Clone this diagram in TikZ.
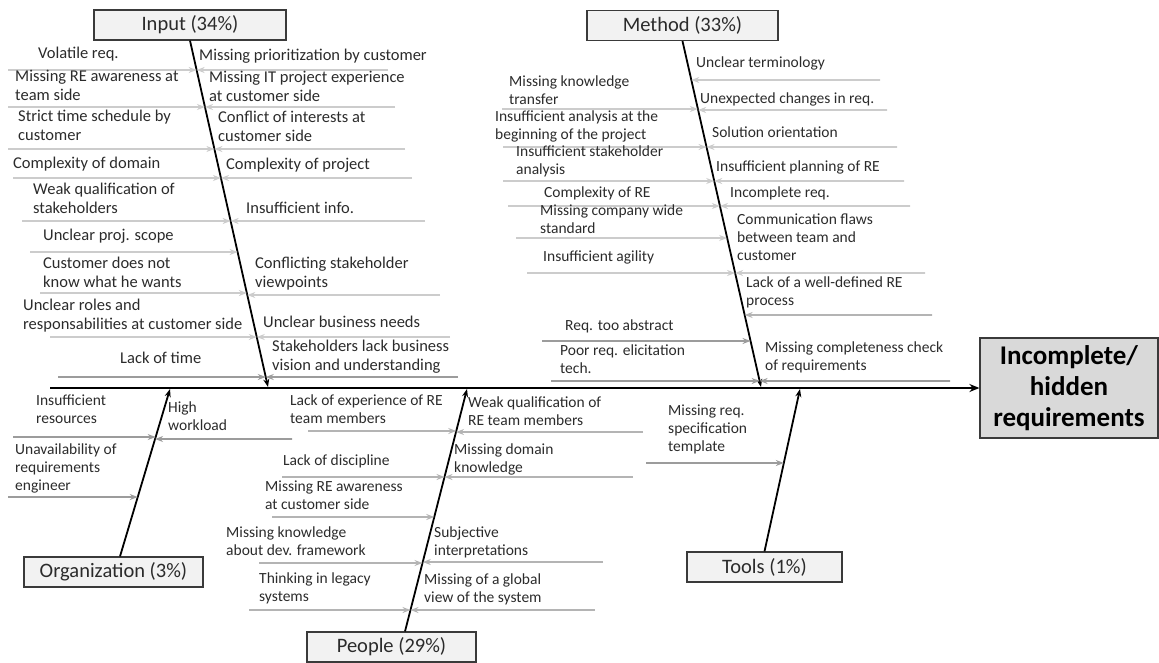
\documentclass[tikz,border=0pt]{standalone}
\usepackage{fontspec}
\setmainfont{Carlito}
\usetikzlibrary{arrows.meta,positioning}
\definecolor{boxline}{HTML}{3A3A3A}
\definecolor{boxfill}{HTML}{F2F2F2}
\definecolor{effectfill}{HTML}{D9D9D9}
\definecolor{sublight}{HTML}{CCCCCC}
\definecolor{submid}{HTML}{B4B4B4}
\definecolor{subdark}{HTML}{9C9C9C}
\definecolor{txt}{HTML}{2B2B2B}
\tikzset{
  catbox/.style={draw=boxline,fill=boxfill,line width=1.2pt,minimum height=30pt,inner sep=0pt,text=txt,font=\fontsize{20.5}{24}\selectfont},
  cause/.style={anchor=base west,align=left,inner sep=0pt,text=txt,font=\fontsize{15.5}{18}\selectfont},
  causebig/.style={cause,font=\fontsize{16.5}{18.5}\selectfont},
  bone/.style={line width=1.8pt,-{Stealth[length=8pt,width=6pt]}},
  sub/.style={line width=1.6pt,draw=sublight,-{Stealth[length=8pt,width=6pt]}},
}
\begin{document}
\begin{tikzpicture}[x=1pt,y=-1pt]
\useasboundingbox (0,0) rectangle (1159,662);
% effect and spine
\node[draw=boxline,fill=effectfill,line width=1.2pt,minimum width=178pt,minimum height=100pt,inner sep=0pt,align=center,
      font=\bfseries\fontsize{27}{31}\selectfont,text=black] (effect) at (1069,388) {Incomplete/\\hidden\\requirements};
\coordinate (spS) at (50,388);
\draw[line width=2.6pt,-{Stealth[length=10pt,width=8pt]}] (spS) -- (effect.west);
% categories
\node[catbox,minimum width=192pt] (input) at (190,25) {Input (34\%)};
\node[catbox,minimum width=191pt] (method) at (682.5,25.5) {Method (33\%)};
\node[catbox,minimum width=179pt] (org) at (113.5,572) {Organization (3\%)};
\node[catbox,minimum width=169pt] (people) at (391.5,647) {People (29\%)};
\node[catbox,minimum width=155pt] (tools) at (764.5,567) {Tools (1\%)};
\coordinate (inT) at (input.south);
\coordinate (inB) at (268,387);
\coordinate (meT) at (method.south);
\coordinate (meB) at (761,387);
\coordinate (orT) at ([xshift=6.5pt]org.north);
\coordinate (orB) at (170,389);
\coordinate (peT) at ([xshift=13.5pt]people.north);
\coordinate (peB) at (467,389);
\coordinate (toT) at (tools.north);
\coordinate (toB) at (800,389);
\draw[bone] (inT) -- (inB);
\draw[bone] (meT) -- (meB);
\draw[bone] (orT) -- (orB);
\draw[bone] (peT) -- (peB);
\draw[bone] (toT) -- (toB);
% input causes
\foreach \y/\xs [count=\i] in {70/8,107/8,149/8,178/13,221/22,252/30,293/40,337/50}
  \draw[sub] (\xs,\y) coordinate (inL\i) -- (intersection of inT--inB and 0,\y--1,\y);
\draw[sub,draw=subdark] (58,377) coordinate (inL9) -- (intersection of inT--inB and 0,377--1,377);
\foreach \y/\xs [count=\i] in {70/388,107/395,149/405,178/412,221/425,295/440,337/450}
  \draw[sub] (\xs,\y) coordinate (inR\i) -- (intersection of inT--inB and 0,\y--1,\y);
\draw[sub,draw=subdark] (458,377) coordinate (inR8) -- (intersection of inT--inB and 0,377--1,377);
\node[causebig] (c11) at (38,58) {Volatile req.};
\node[causebig] (c12) at (15,100) {Missing RE awareness at\\team side};
\node[causebig] (c13) at (18,140) {Strict time schedule by\\customer};
\node[causebig] (c14) at (13,168) {Complexity of domain};
\node[causebig] (c15) at (33,213) {Weak qualification of\\stakeholders};
\node[causebig] (c16) at (43,240) {Unclear proj. scope};
\node[causebig] (c17) at (43,287) {Customer does not\\know what he wants};
\node[causebig] (c18) at (23,329) {Unclear roles and\\responsabilities at customer side};
\node[causebig] (c19) at (120,363) {Lack of time};
\node[causebig] (c21) at (199,60) {Missing prioritization by customer};
\node[causebig] (c22) at (209,101) {Missing IT project experience\\at customer side};
\node[causebig] (c23) at (218,141) {Conflict of interests at\\customer side};
\node[causebig] (c24) at (226,169) {Complexity of project};
\node[causebig] (c25) at (246,213) {Insufficient info.};
\node[causebig] (c26) at (255,287) {Conflicting stakeholder\\viewpoints};
\node[causebig] (c27) at (263,327) {Unclear business needs};
\node[causebig] (c28) at (272,370) {Stakeholders lack business\\vision and understanding};
% method causes
\foreach \y/\xs [count=\i] in {109/502,147/503,181/503,206/508,238/516,273/527}
  \draw[sub] (\xs,\y) coordinate (meL\i) -- (intersection of meT--meB and 0,\y--1,\y);
\draw[sub,draw=subdark] (542,341) coordinate (meL7) -- (intersection of meT--meB and 0,341--1,341);
\draw[sub,draw=subdark] (551,381) coordinate (meL8) -- (intersection of meT--meB and 0,381--1,381);
\foreach \y/\xs [count=\i] in {80/880,110/887,147/897,181/904,206/910,273/925}
  \draw[sub] (\xs,\y) coordinate (meR\i) -- (intersection of meT--meB and 0,\y--1,\y);
\draw[sub,draw=submid] (932,315) coordinate (meR7) -- (intersection of meT--meB and 0,315--1,315);
\draw[sub,draw=subdark] (950,381) coordinate (meR8) -- (intersection of meT--meB and 0,381--1,381);
\node[cause] (m11) at (509,104) {Missing knowledge\\transfer};
\node[cause] (m12) at (495,139) {Insufficient analysis at the\\beginning of the project};
\node[cause] (m13) at (516,174) {Insufficient stakeholder\\analysis};
\node[cause] (m14) at (544,197) {Complexity of RE};
\node[cause] (m15) at (540,233) {Missing company wide\\standard};
\node[cause] (m16) at (543,261) {Insufficient agility};
\node[cause] (m17) at (565,330) {Req. too abstract};
\node[cause] (m18) at (560,373) {Poor req. elicitation\\tech.};
\node[cause] (m21) at (696,67) {Unclear terminology};
\node[cause] (m22) at (700,103) {Unexpected changes in req.};
\node[cause] (m23) at (712,137) {Solution orientation};
\node[cause] (m24) at (716,171) {Insufficient planning of RE};
\node[cause] (m25) at (730,197) {Incomplete req.};
\node[cause] (m26) at (737,260) {Communication flaws\\between team and\\customer};
\node[cause] (m27) at (746,305) {Lack of a well-defined RE\\process};
\node[cause] (m28) at (765,370) {Missing completeness check\\of requirements};
% organization causes
\foreach \y/\xs [count=\i] in {437/13,497/8}
  \draw[sub,draw=subdark] (\xs,\y) coordinate (orL\i) -- (intersection of orT--orB and 0,\y--1,\y);
\draw[sub,draw=subdark] (292,439) coordinate (orR1) -- (intersection of orT--orB and 0,439--1,439);
\node[cause] (o11) at (36,423) {Insufficient\\resources};
\node[cause] (o12) at (15,490) {Unavailability of\\requirements\\engineer};
\node[cause] (o21) at (168,430) {High\\workload};
% people causes
\foreach \y/\xs [count=\i] in {431/308,477/282,517/272,563/259,610/249}
  \draw[sub,draw=submid] (\xs,\y) coordinate (peL\i) -- (intersection of peT--peB and 0,\y--1,\y);
\foreach \y/\xs [count=\i] in {432/643,477/633,562/603,610/595}
  \draw[sub,draw=submid] (\xs,\y) coordinate (peR\i) -- (intersection of peT--peB and 0,\y--1,\y);
\node[cause] (p11) at (290,423) {Lack of experience of RE\\team members};
\node[cause] (p12) at (283,465) {Lack of discipline};
\node[cause] (p13) at (265,509) {Missing RE awareness\\at customer side};
\node[cause] (p14) at (226,555) {Missing knowledge\\about dev. framework};
\node[cause] (p15) at (259,601) {Thinking in legacy\\systems};
\node[cause] (p21) at (468,425) {Weak qualification of\\RE team members};
\node[cause] (p22) at (454,472) {Missing domain\\knowledge};
\node[cause] (p23) at (434,555) {Subjective\\interpretations};
\node[cause] (p24) at (424,602) {Missing of a global\\view of the system};
% tools causes
\draw[sub,draw=subdark] (646,463) coordinate (toL1) -- (intersection of toT--toB and 0,463--1,463);
\node[cause] (t11) at (668,451) {Missing req.\\specification\\template};
\end{tikzpicture}
\end{document}
